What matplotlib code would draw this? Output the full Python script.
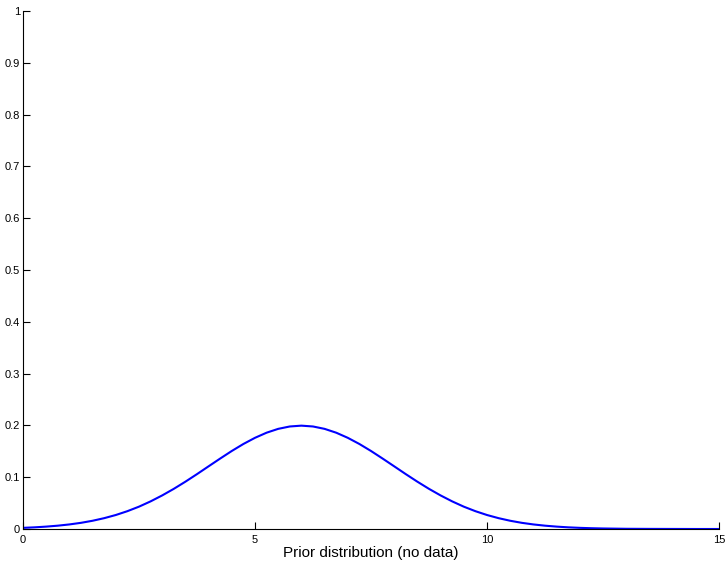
import matplotlib
matplotlib.use("Agg")
import matplotlib.pyplot as plt

# prior density
x_vals = [0, 0.25, 0.5, 0.75, 1.0, 1.25, 1.5, 1.75, 2.0, 2.25, 2.5, 2.75,
          3.0, 3.25, 3.5, 3.75, 4.0, 4.25, 4.5, 4.75, 5.0, 5.25, 5.5, 5.75,
          6.0, 6.25, 6.5, 6.75, 7.0, 7.25, 7.5, 7.75, 8.0, 8.25, 8.5, 8.75,
          9.0, 9.25, 9.5, 9.75, 10.0, 10.25, 10.5, 10.75, 11.0, 11.25, 11.5,
          11.75, 12.0, 12.25, 12.5, 12.75, 13.0, 13.5, 14.0, 14.5, 15.0]
density = [0.0022, 0.0032, 0.0046, 0.0064, 0.0088, 0.0119, 0.0159, 0.0209,
           0.0270, 0.0344, 0.0431, 0.0533, 0.0648, 0.0775, 0.0913, 0.1059,
           0.1210, 0.1360, 0.1506, 0.1641, 0.1760, 0.1859, 0.1933, 0.1979,
           0.1995, 0.1979, 0.1933, 0.1859, 0.1760, 0.1641, 0.1506, 0.1360,
           0.1210, 0.1059, 0.0913, 0.0775, 0.0648, 0.0533, 0.0431, 0.0344,
           0.0270, 0.0209, 0.0159, 0.0119, 0.0088, 0.0064, 0.0046, 0.0032,
           0.0022, 0.0015, 0.0010, 0.0007, 0.0004, 0.0002, 0.0001, 0.0000,
           0.0000]

x_ticks = [0, 5, 10, 15]
y_ticks = [0, 0.1, 0.2, 0.3, 0.4, 0.5, 0.6, 0.7, 0.8, 0.9, 1]
y_labels = ["0", "0.1", "0.2", "0.3", "0.4", "0.5", "0.6", "0.7", "0.8", "0.9", "1"]

plt.rcParams["font.family"] = ["Liberation Sans", "DejaVu Sans"]

fig = plt.figure(figsize=(7.27, 5.63), dpi=100)
ax = fig.add_axes([0.0316, 0.0604, 0.9574, 0.9201])

ax.plot(x_vals, density, color="#0000ff", linewidth=1.5)

ax.set_xlim(0, 15)
ax.set_ylim(0, 1)
ax.set_xticks(x_ticks)
ax.set_yticks(y_ticks)
ax.set_yticklabels(y_labels)
ax.tick_params(direction="in", length=5, width=0.8, labelsize=8, colors="black")
ax.tick_params(axis="y", pad=2)
ax.tick_params(axis="x", pad=4)
ax.spines["top"].set_visible(False)
ax.spines["right"].set_visible(False)
ax.spines["left"].set_linewidth(0.8)
ax.spines["bottom"].set_linewidth(0.8)

ax.set_xlabel("Prior distribution (no data)", fontsize=11, labelpad=1)

fig.savefig("out.png", dpi=100)
